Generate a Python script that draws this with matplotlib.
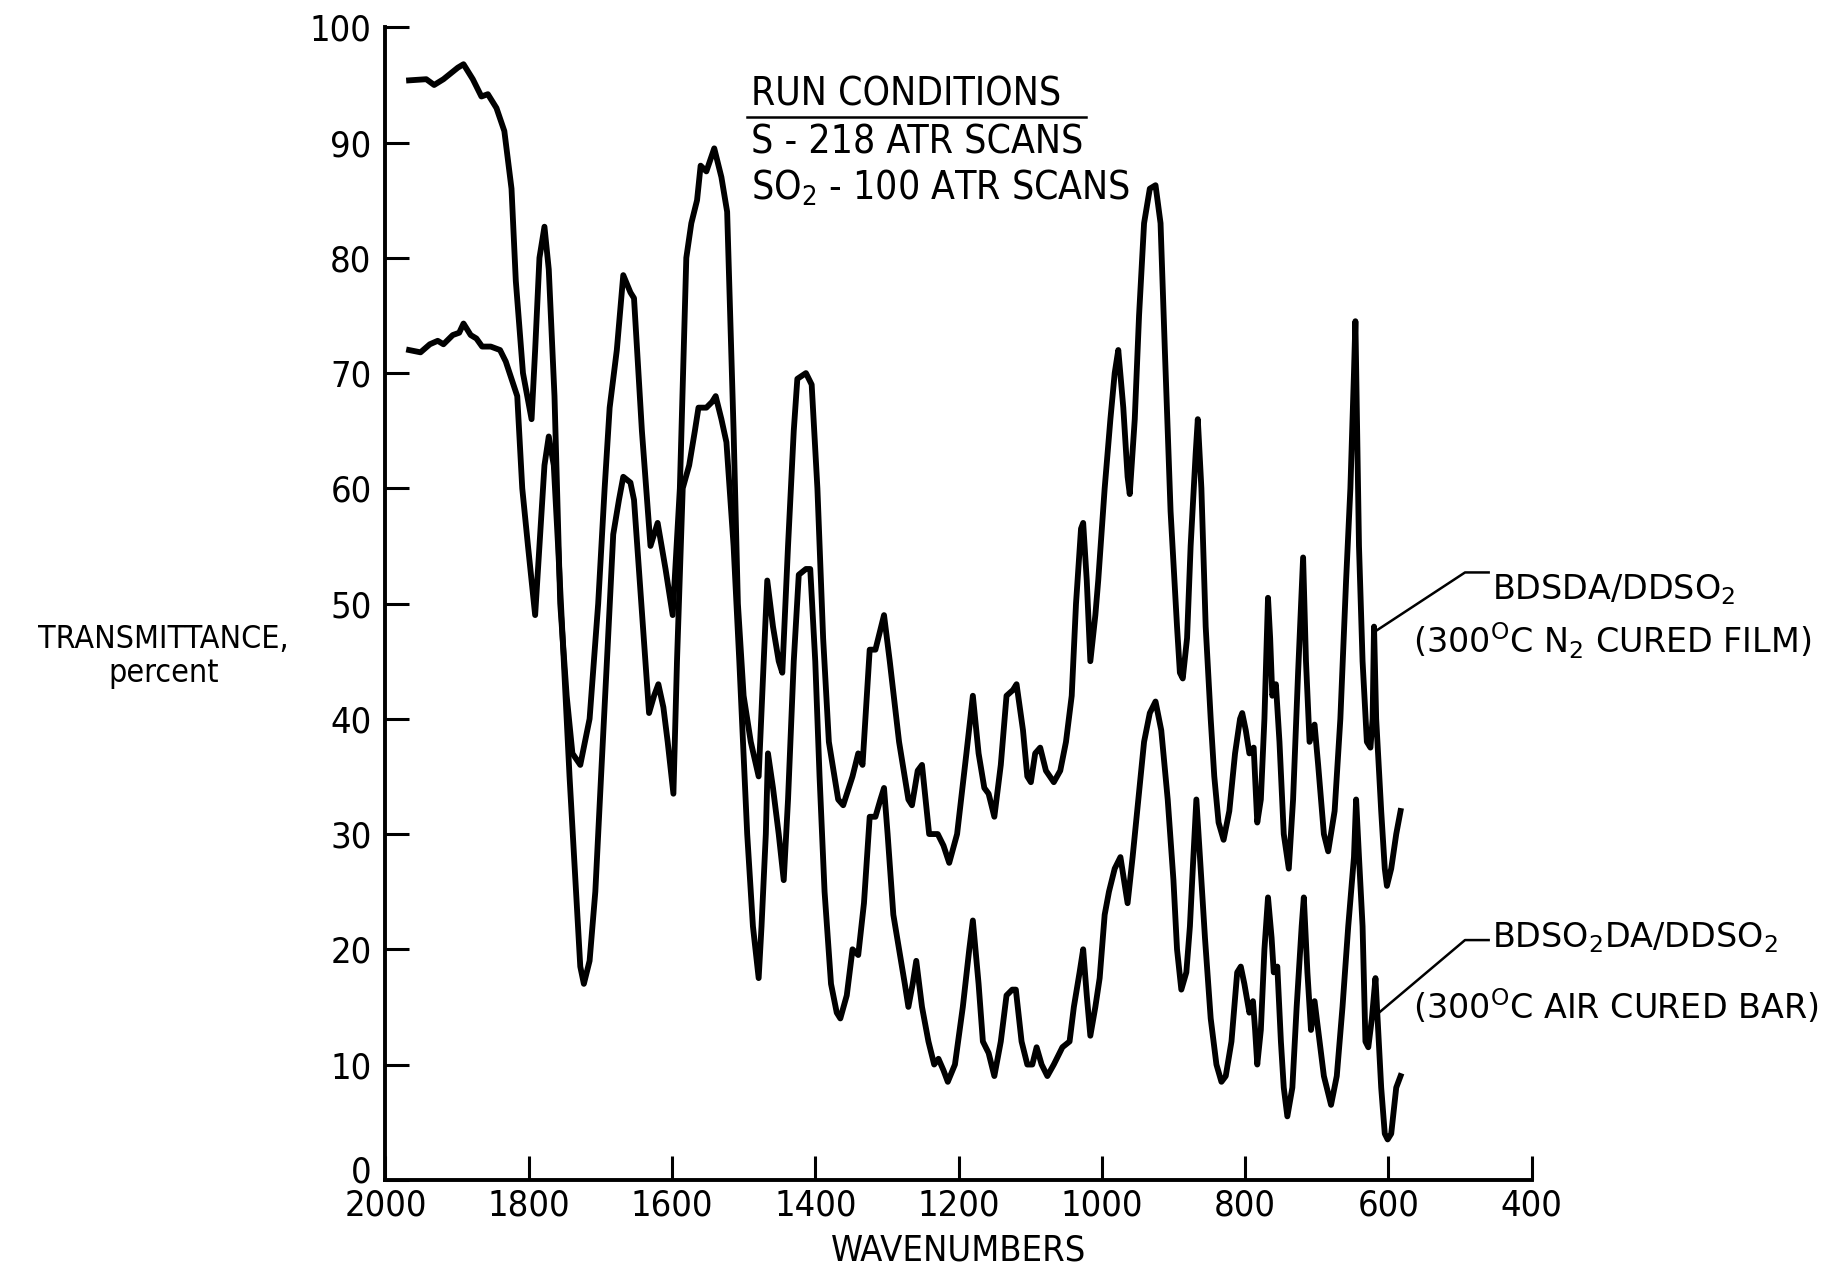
import numpy as np
import matplotlib
matplotlib.use("Agg")
import matplotlib.pyplot as plt
import matplotlib.transforms as mtrans

plt.rcParams['font.family'] = ['DejaVu Sans']
plt.rcParams['font.stretch'] = 'condensed'
plt.rcParams['mathtext.default'] = 'regular'

# BDSDA/DDSO2 (300 C N2 cured film)
wn_film = [1967, 1943, 1932, 1919, 1899, 1891, 1878, 1866, 1857, 1845, 1834, 1824, 1818, 1808,
           1796, 1791, 1785, 1778, 1772, 1764, 1756, 1747, 1739, 1728, 1715, 1703, 1694, 1687,
           1677, 1668, 1658, 1653, 1642, 1630, 1620, 1609, 1599, 1589, 1580, 1573, 1565, 1560,
           1552, 1541, 1531, 1523, 1514, 1508, 1500, 1490, 1479, 1472, 1467, 1459, 1451, 1446,
           1438, 1430, 1425, 1413, 1405, 1397, 1389, 1381, 1368, 1361, 1348, 1340, 1334, 1324,
           1316, 1304, 1296, 1283, 1270, 1265, 1257, 1251, 1241, 1229, 1221, 1213, 1202, 1189,
           1180, 1172, 1164, 1158, 1150, 1141, 1133, 1124, 1119, 1110, 1104, 1099, 1093, 1086,
           1078, 1067, 1058, 1050, 1042, 1036, 1029, 1026, 1021, 1016, 1009, 1005, 996, 988,
           982, 977, 970, 964, 961, 954, 948, 941, 933, 925, 918, 912, 904, 895, 891, 887, 881,
           876, 869, 866, 861, 855, 848, 843, 837, 830, 822, 814, 807, 804, 799, 794, 788, 783,
           778, 773, 768, 765, 762, 757, 752, 746, 739, 733, 726, 719, 715, 710, 703, 698, 690,
           684, 675, 667, 659, 653, 648, 646, 641, 636, 630, 625, 622, 620, 617, 610, 605, 602,
           596, 589, 583]
t_film = [95.4, 95.5, 95.0, 95.5, 96.5, 96.8, 95.5, 94.0, 94.2, 93.0, 91.0, 86.0, 78.0, 70.0,
          66.0, 72.0, 80.0, 82.7, 79.0, 68.0, 50.0, 42.0, 37.0, 36.0, 40.0, 50.0, 60.0, 67.0,
          72.0, 78.5, 77.0, 76.5, 65.0, 55.0, 57.0, 53.0, 49.0, 60.0, 80.0, 83.0, 85.0, 88.0,
          87.5, 89.5, 87.0, 84.0, 65.0, 50.0, 42.0, 38.0, 35.0, 45.0, 52.0, 48.0, 45.0, 44.0,
          55.0, 65.0, 69.5, 70.0, 69.0, 60.0, 47.0, 38.0, 33.0, 32.5, 35.0, 37.0, 36.0, 46.0,
          46.0, 49.0, 45.0, 38.0, 33.0, 32.5, 35.5, 36.0, 30.0, 30.0, 29.0, 27.5, 30.0, 37.0,
          42.0, 37.0, 34.0, 33.5, 31.5, 36.0, 42.0, 42.5, 43.0, 39.0, 35.0, 34.5, 37.0, 37.5,
          35.5, 34.5, 35.5, 38.0, 42.0, 50.0, 56.5, 57.0, 52.0, 45.0, 49.0, 52.0, 60.0, 66.0,
          70.0, 72.0, 67.0, 61.0, 59.5, 66.0, 75.0, 83.0, 86.0, 86.3, 83.0, 72.0, 58.0, 48.0,
          44.0, 43.5, 47.0, 55.0, 63.0, 66.0, 60.0, 48.0, 40.0, 35.0, 31.0, 29.5, 32.0, 37.0,
          40.0, 40.5, 39.0, 37.0, 37.5, 31.0, 33.0, 40.0, 50.5, 47.0, 42.0, 43.0, 38.0, 30.0,
          27.0, 33.0, 44.0, 54.0, 45.0, 38.0, 39.5, 36.0, 30.0, 28.5, 32.0, 40.0, 52.0, 60.0,
          70.0, 74.5, 55.0, 45.0, 38.0, 37.5, 40.0, 48.0, 40.0, 32.0, 27.0, 25.5, 27.0, 30.0,
          32.0]

# BDSO2DA/DDSO2 (300 C air cured bar)
wn_bar = [1967, 1951, 1938, 1927, 1919, 1906, 1897, 1891, 1881, 1873, 1865, 1853, 1840, 1832,
          1824, 1816, 1809, 1801, 1791, 1785, 1778, 1772, 1765, 1759, 1751, 1743, 1734, 1728,
          1723, 1715, 1707, 1699, 1690, 1682, 1674, 1668, 1658, 1653, 1645, 1638, 1632, 1625,
          1619, 1612, 1606, 1598, 1593, 1585, 1576, 1568, 1563, 1552, 1544, 1539, 1531, 1524,
          1514, 1506, 1495, 1487, 1479, 1475, 1469, 1466, 1459, 1451, 1444, 1438, 1430, 1423,
          1413, 1407, 1400, 1394, 1387, 1378, 1370, 1365, 1356, 1348, 1340, 1332, 1324, 1316,
          1309, 1304, 1299, 1291, 1283, 1275, 1270, 1264, 1259, 1251, 1242, 1234, 1228, 1221,
          1215, 1205, 1194, 1185, 1180, 1172, 1166, 1158, 1150, 1141, 1133, 1125, 1120, 1112,
          1104, 1097, 1091, 1084, 1076, 1067, 1055, 1045, 1039, 1031, 1026, 1021, 1016, 1009,
          1003, 996, 990, 982, 974, 969, 964, 957, 949, 941, 933, 925, 917, 908, 900, 895, 889,
          882, 877, 873, 868, 863, 856, 848, 840, 833, 827, 819, 811, 806, 801, 794, 789, 786,
          783, 778, 773, 768, 763, 760, 755, 750, 746, 741, 734, 728, 721, 718, 713, 708, 703,
          698, 690, 680, 672, 664, 656, 648, 645, 641, 636, 632, 628, 623, 618, 615, 610, 605,
          601, 596, 589, 583]
t_bar = [72.0, 71.8, 72.5, 72.8, 72.5, 73.3, 73.5, 74.3, 73.3, 73.0, 72.3, 72.3, 72.0, 71.0,
         69.5, 68.0, 60.0, 55.0, 49.0, 55.0, 62.0, 64.5, 62.0, 55.0, 45.0, 35.0, 25.0, 18.5,
         17.0, 19.0, 25.0, 35.0, 46.0, 56.0, 59.0, 61.0, 60.5, 59.0, 52.0, 46.0, 40.5, 42.0,
         43.0, 41.0, 38.0, 33.5, 45.0, 60.0, 62.0, 65.0, 67.0, 67.0, 67.5, 68.0, 66.0, 64.0,
         55.0, 45.0, 30.0, 22.0, 17.5, 22.0, 30.0, 37.0, 34.0, 30.0, 26.0, 33.0, 45.0, 52.5,
         53.0, 53.0, 45.0, 35.0, 25.0, 17.0, 14.5, 14.0, 16.0, 20.0, 19.5, 24.0, 31.5, 31.5,
         33.0, 34.0, 30.0, 23.0, 20.0, 17.0, 15.0, 17.0, 19.0, 15.0, 12.0, 10.0, 10.5, 9.5,
         8.5, 10.0, 15.0, 20.0, 22.5, 17.0, 12.0, 11.0, 9.0, 12.0, 16.0, 16.5, 16.5, 12.0,
         10.0, 10.0, 11.5, 10.0, 9.0, 10.0, 11.5, 12.0, 15.0, 18.0, 20.0, 16.0, 12.5, 15.0,
         17.5, 23.0, 25.0, 27.0, 28.0, 26.0, 24.0, 28.0, 33.0, 38.0, 40.5, 41.5, 39.0, 33.0,
         26.0, 20.0, 16.5, 18.0, 22.0, 27.0, 33.0, 28.0, 21.0, 14.0, 10.0, 8.5, 9.0, 12.0,
         18.0, 18.5, 17.0, 14.5, 15.5, 13.0, 10.0, 13.0, 20.0, 24.5, 21.0, 18.0, 18.5, 12.0,
         8.0, 5.5, 8.0, 15.0, 22.0, 24.5, 18.0, 13.0, 15.5, 13.0, 9.0, 6.5, 9.0, 15.0, 22.0,
         28.0, 33.0, 28.0, 22.0, 12.0, 11.5, 14.0, 17.5, 14.0, 8.0, 4.0, 3.5, 4.0, 8.0, 9.0]

x_ticks = [2000, 1800, 1600, 1400, 1200, 1000, 800, 600, 400]
y_ticks = [0, 10, 20, 30, 40, 50, 60, 70, 80, 90, 100]

fig = plt.figure(figsize=(18.31, 12.72), dpi=100)
ax = fig.add_axes([0.2105, 0.0725, 0.626, 0.906])

ax.plot(wn_film, t_film, color='black', lw=4.2, solid_joinstyle='round')
ax.plot(wn_bar, t_bar, color='black', lw=4.2, solid_joinstyle='round')

ax.set_xlim(2000, 400)
ax.set_ylim(0, 100)
ax.set_xticks(x_ticks)
ax.set_yticks(y_ticks)
ax.spines['top'].set_visible(False)
ax.spines['right'].set_visible(False)
ax.spines['left'].set_linewidth(2.8)
ax.spines['bottom'].set_linewidth(2.8)
ax.tick_params(direction='in', length=17, width=2.2, labelsize=26, pad=10)
ax.tick_params(axis='x', pad=6)

# nudge the "0" label up a bit so it clears "2000"
zero_lbl = ax.yaxis.get_majorticklabels()[0]
zero_lbl.set_transform(zero_lbl.get_transform() + mtrans.ScaledTranslation(0, 8 / 72, fig.dpi_scale_trans))

ax.set_xlabel('WAVENUMBERS', fontsize=26, labelpad=8)
fig.text(0.0893, 0.484, 'TRANSMITTANCE,\npercent', ha='center', va='center',
         fontsize=23, linespacing=1.1)

# run conditions block
ax.text(1490, 94.2, 'RUN CONDITIONS', fontsize=28, va='center', ha='left')
ax.plot([1495, 1022], [92.2, 92.2], color='black', lw=1.8, clip_on=False)
ax.text(1490, 90.0, 'S - 218 ATR SCANS', fontsize=28, va='center', ha='left')
ax.text(1490, 86.1, 'SO$_2$ - 100 ATR SCANS', fontsize=28, va='center', ha='left')

# curve labels with leader lines (wider lettering in the original)
ax.plot([618, 493, 460], [47.6, 52.7, 52.7], color='black', lw=1.8, clip_on=False)
ax.text(456, 51.2, 'BDSDA/DDSO$_2$', fontsize=24, va='center', ha='left', fontstretch='normal')
ax.text(566, 46.8, '(300$^O$C N$_2$ CURED FILM)', fontsize=24, va='center', ha='left',
        fontstretch='normal')
ax.plot([615, 493, 460], [14.4, 20.8, 20.8], color='black', lw=1.8, clip_on=False)
ax.text(456, 21.0, 'BDSO$_2$DA/DDSO$_2$', fontsize=24, va='center', ha='left', fontstretch='normal')
ax.text(566, 15.0, '(300$^O$C AIR CURED BAR)', fontsize=24, va='center', ha='left',
        fontstretch='normal')

fig.savefig('out.png', dpi=100)
